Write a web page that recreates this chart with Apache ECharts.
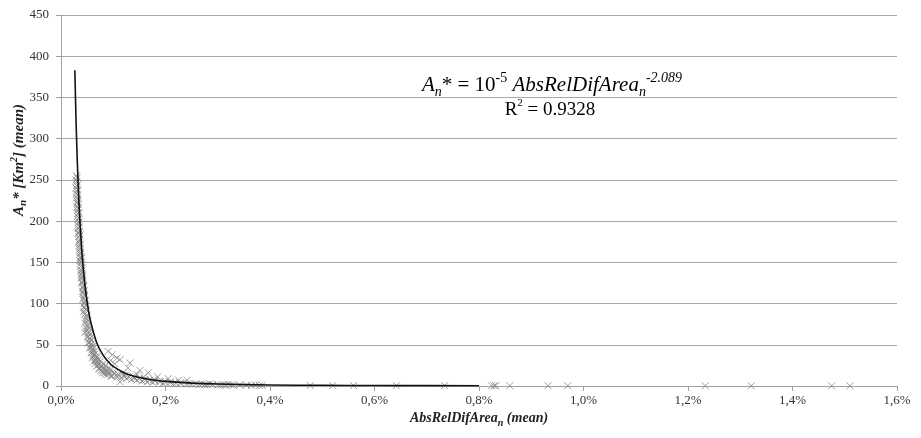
<!DOCTYPE html>
<html>
<head>
<meta charset="utf-8">
<script src="https://cdn.jsdelivr.net/npm/echarts@6/dist/echarts.min.js"></script>
<style>html,body{margin:0;padding:0;background:#fff}#c{width:921px;height:438px}</style>
</head>
<body>
<div id="c"></div>
<script>
// x values in percent, y values in Km²
const pointsX = [0.0295,0.0310,0.0302,0.0318,0.0290,0.0305,0.0322,0.0298,0.0312,0.0330,0.0305,0.0320,0.0338,0.0315,0.0328,0.0345,0.0322,0.0336,0.0352,0.0330,0.0345,0.0360,0.0340,0.0355,0.0372,0.0350,0.0365,0.0380,0.0395,0.0360,0.0375,0.0390,0.0405,0.0380,0.0398,0.0412,0.0390,0.0420,0.0405,0.0435,0.0415,0.0445,0.0425,0.0455,0.0435,0.0465,0.0445,0.0475,0.0455,0.0490,0.0430,0.0470,0.0500,0.0485,0.0520,0.0460,0.0505,0.0540,0.0480,0.0460,0.0525,0.0560,0.0510,0.0545,0.0580,0.0530,0.0570,0.0610,0.0550,0.0595,0.0640,0.0580,0.0625,0.0670,0.0600,0.0660,0.0710,0.0630,0.0690,0.0750,0.0650,0.0730,0.0800,0.0680,0.0770,0.0850,0.0720,0.0820,0.0900,0.0760,0.0870,0.0950,0.0800,0.0920,0.1000,0.0850,0.1050,0.1130,0.0980,0.1100,0.1200,0.1150,0.1300,0.1250,0.1400,0.1350,0.1500,0.1450,0.1600,0.1550,0.1700,0.1650,0.1800,0.1750,0.1900,0.2000,0.1950,0.2100,0.2200,0.2150,0.2300,0.2400,0.2500,0.2650,0.2700,0.2800,0.2900,0.3000,0.3100,0.3150,0.3250,0.3300,0.3550,0.3650,0.3800,0.4770,0.5200,0.5600,0.6420,0.7340,0.8240,0.8290,0.8320,0.8590,0.9320,0.9700,1.2330,1.3210,1.4750,1.5100,0.1320,0.1280,0.1510,0.1670,0.1450,0.1850,0.2050,0.2250,0.2410,0.1070,0.1130,0.0980,0.0900,0.1030,0.0950,
  0.0285,0.0300,0.0315,0.0295,0.0325,0.0308,0.0335,0.0318,0.0342,0.0328,0.0350,0.0336,0.0362,0.0348,0.0368,0.0355,0.0378,0.0368,0.0388,0.0372,0.0400,0.0385,0.0415,0.0398,0.0428,0.0410,0.0440,0.0420,0.0455,0.0438,0.0470,0.0452,0.0490,0.0470,0.0510,0.0495,0.0530,0.0515,0.0555,0.0540,0.0580,0.0565,0.0610,0.0590,0.0650,0.0620,0.0690,0.0660,0.0720,0.0700,0.0780,0.0740,0.0830,0.0790,0.0880,0.0840,0.0930,0.0900,0.1020,0.0960,0.1080,0.1180,0.1230,0.1380,0.1420,0.1580,0.1620,0.1780,0.1880,0.2080,0.2280,0.2450,0.2580,0.2750,0.2850,0.3050,0.3200,0.3420,0.3720,0.3850];
const pointsY = [255,253,248,244,240,236,232,228,224,221,217,213,210,206,202,199,195,191,188,185,181,178,174,170,167,163,160,157,155,152,149,146,143,140,137,134,131,128,125,122,119,116,113,110,107,104,101,98,95,92,90,88,86,82,79,76,73,70,67,65,64,62,59,57,55,52,50,48,46,44,42,40,38,36,34,33,32,30,29,30,27,26,27,24,23,25,21,20,22,19,18,20,16,15,17,14,13,5,12,14,12,10,11,9,10,8,9,7,8,6,7,5,6,4.5,5,4.5,3.5,4,3.5,2.8,3,2.5,2.2,1.8,2.3,1.5,1.8,1.3,1.6,1.1,1.4,0.9,1.0,0.8,0.7,0.6,0.5,0.5,0.4,0.4,0.3,0.3,0.3,0.3,0.3,0.3,0.2,0.2,0.2,0.2,28,22,19,16,14,11,9,7,7,34,32,38,42,27,31,
  250,243,238,233,227,222,216,209,204,198,193,186,183,176,172,166,162,155,151,145,140,135,131,126,120,115,111,105,100,96,93,87,84,79,75,70,66,61,58,54,51,47,45,41,39,36,35,31,28,25,24,21,22,18,19,16,17,14,15,12,11,15,13,12,9,11,7,8,6,5,4,3,2.5,1.5,2.6,1.0,2.0,1.2,1.3,0.8];
const trendX = [0.0265,0.028,0.030,0.0325,0.035,0.0375,0.040,0.045,0.050,0.055,0.060,0.065,0.070,0.080,0.090,0.100,0.120,0.140,0.160,0.180,0.200,0.250,0.300,0.400,0.500,0.600,0.700,0.800];
const trendY = [383,342,296,250,214,186,162,127,102,83,70,59,50,38,29.8,23.9,16.4,11.9,9.0,7.0,5.6,3.5,2.4,1.3,0.83,0.57,0.41,0.31];
const xMin = 0, xMax = 1.6, xStep = 0.2;
const yMin = 0, yMax = 450, yStep = 50;

const serif = '"Liberation Serif", "DejaVu Serif", serif';
const chart = echarts.init(document.getElementById('c'));
const scatterData = pointsX.map((x, i) => [x, pointsY[i]]);
const trendData = trendX.map((x, i) => [x, trendY[i]]);

chart.setOption({
  animation: false,
  grid: { left: 61, right: 24, top: 15, bottom: 52, containLabel: false },
  xAxis: {
    type: 'value', min: xMin, max: xMax, interval: xStep,
    axisLine: { show: true, lineStyle: { color: '#a0a0a0', width: 1 } },
    axisTick: { show: true, length: 5, lineStyle: { color: '#a0a0a0' } },
    splitLine: { show: false },
    axisLabel: { color: '#333', fontFamily: serif, fontSize: 13, margin: 8,
      formatter: v => v.toFixed(1).replace('.', ',') + '%' }
  },
  yAxis: {
    type: 'value', min: yMin, max: yMax, interval: yStep,
    axisLine: { show: true, lineStyle: { color: '#a0a0a0', width: 1 } },
    axisTick: { show: true, length: 5, lineStyle: { color: '#a0a0a0' } },
    splitLine: { show: true, lineStyle: { color: '#a6a6a6', width: 1 } },
    axisLabel: { color: '#333', fontFamily: serif, fontSize: 13, margin: 12 }
  },
  series: [
    {
      type: 'scatter', data: scatterData,
      symbol: 'path://M0,0L10,10M10,0L0,10', symbolSize: 7,
      itemStyle: { color: 'none', borderColor: '#858585', borderWidth: 1 },
      z: 2
    },
    {
      type: 'line', data: trendData, smooth: true, showSymbol: false,
      lineStyle: { color: '#111', width: 1.6 }, z: 3
    }
  ],
  graphic: [
    {
      type: 'text', x: 552, y: 85,
      style: {
        text: '{ai|A}{sub|n}{n|* = 10}{sup|-5}{ai| AbsRelDifArea}{sub|n}{supi|-2.089}',
        align: 'center', verticalAlign: 'middle',
        rich: {
          ai: { fontFamily: serif, fontStyle: 'italic', fontSize: 21, lineHeight: 28, fill: '#000' },
          n: { fontFamily: serif, fontSize: 21, lineHeight: 28, fill: '#000' },
          sub: { fontFamily: serif, fontStyle: 'italic', fontSize: 14, lineHeight: 14, verticalAlign: 'bottom', fill: '#000' },
          sup: { fontFamily: serif, fontSize: 14, lineHeight: 15, verticalAlign: 'top', fill: '#000' },
          supi: { fontFamily: serif, fontStyle: 'italic', fontSize: 14, lineHeight: 15, verticalAlign: 'top', fill: '#000' }
        }
      }
    },
    {
      type: 'text', x: 550, y: 110,
      style: {
        text: '{n|R}{sup|2}{n| = 0.9328}',
        align: 'center', verticalAlign: 'middle',
        rich: {
          n: { fontFamily: serif, fontSize: 19, lineHeight: 24, fill: '#000' },
          sup: { fontFamily: serif, fontSize: 11, lineHeight: 13, verticalAlign: 'top', fill: '#000' }
        }
      }
    },
    {
      type: 'text', x: 479, y: 418,
      style: {
        text: '{t|AbsRelDifArea}{sub|n}{t| (mean)}',
        align: 'center', verticalAlign: 'middle',
        rich: {
          t: { fontFamily: serif, fontStyle: 'italic', fontWeight: 'bold', fontSize: 14, lineHeight: 20, fill: '#222' },
          sub: { fontFamily: serif, fontStyle: 'italic', fontWeight: 'bold', fontSize: 10, lineHeight: 10, verticalAlign: 'bottom', fill: '#222' }
        }
      }
    },
    {
      type: 'text', x: 19, y: 160, rotation: Math.PI / 2,
      style: {
        text: '{t|A}{sub|n}{t|* [Km}{sup|2}{t|] (mean)}',
        align: 'center', verticalAlign: 'middle',
        rich: {
          t: { fontFamily: serif, fontStyle: 'italic', fontWeight: 'bold', fontSize: 15, lineHeight: 20, fill: '#222' },
          sub: { fontFamily: serif, fontStyle: 'italic', fontWeight: 'bold', fontSize: 11, lineHeight: 11, verticalAlign: 'bottom', fill: '#222' },
          sup: { fontFamily: serif, fontStyle: 'italic', fontWeight: 'bold', fontSize: 10, lineHeight: 12, verticalAlign: 'top', fill: '#222' }
        }
      }
    }
  ]
});
</script>
</body>
</html>
